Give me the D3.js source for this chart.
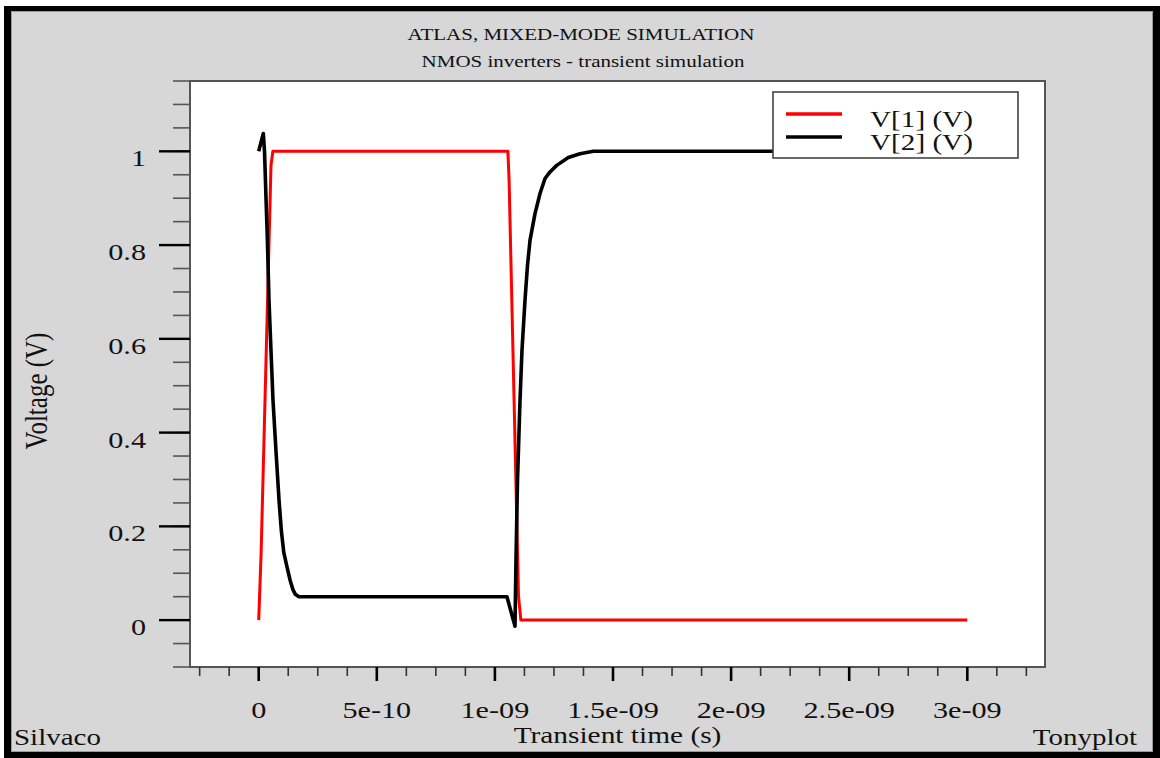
<!DOCTYPE html>
<html>
<head>
<meta charset="utf-8">
<title>ATLAS, MIXED-MODE SIMULATION</title>
<style>
body { margin: 0; background: #fff; }
text { font-family: "Liberation Serif", "Times New Roman", serif; fill: #111; }
</style>
</head>
<body>
<svg width="1160" height="758"></svg>
<script src="https://cdnjs.cloudflare.com/ajax/libs/d3/7.8.5/d3.min.js"></script>
<script>
// V[1] - input pulse (red)
var t1 = [0, 1e-11, 5.2e-11, 6e-11, 1.055e-9, 1.06e-9, 1.1e-9, 1.11e-9, 3e-9];
var v1 = [0, 0.14, 0.97, 1.0, 1.0, 0.94, 0.05, 0, 0];
// V[2] - inverter output (black)
var t2 = [0, 1.95e-11, 2.46e-11, 3.09e-11, 3.64e-11, 4.36e-11, 6.05e-11, 7.3e-11, 8.6e-11, 9.6e-11,
          1.06e-10, 1.2e-10, 1.33e-10, 1.45e-10, 1.55e-10, 1.7e-10,
          1.051e-9, 1.0851e-9, 1.0893e-9, 1.0957e-9, 1.1063e-9, 1.1147e-9, 1.1274e-9, 1.138e-9,
          1.1486e-9, 1.1698e-9, 1.191e-9, 1.2122e-9, 1.2334e-9, 1.2616e-9, 1.3108e-9, 1.3603e-9,
          1.4166e-9, 1.53e-9, 3e-9];
var v2 = [1.0, 1.038, 1.0, 0.9, 0.817, 0.68, 0.469, 0.362, 0.256, 0.19,
          0.145, 0.113, 0.085, 0.065, 0.055, 0.05,
          0.05, -0.013, 0.128, 0.298, 0.469, 0.576, 0.682, 0.757,
          0.81, 0.867, 0.91, 0.942, 0.956, 0.97, 0.987, 0.995,
          1.0, 1.0, 1.0];

var xMajor = [0, 5e-10, 1e-9, 1.5e-9, 2e-9, 2.5e-9, 3e-9];
var xLabels = ["0", "5e-10", "1e-09", "1.5e-09", "2e-09", "2.5e-09", "3e-09"];
var yMajor = [0, 0.2, 0.4, 0.6, 0.8, 1];
var yLabels = ["0", "0.2", "0.4", "0.6", "0.8", "1"];
var xMinor = d3.range(-2, 27).map(function(i) { return i * 1.25e-10; });
var yMinor = d3.range(-2, 24).map(function(i) { return i * 0.05; });

var series = [
  {name: "V[1] (V)", color: "#ff0000", width: 3, t: t1, v: v1},
  {name: "V[2] (V)", color: "#000000", width: 3.6, t: t2, v: v2}
];

var SX = 1.26; // the original picture is stretched horizontally
var svg = d3.select("svg");

// frame
svg.append("rect").attr("x", 4).attr("y", 6).attr("width", 1156).attr("height", 752).attr("fill", "#000");
svg.append("rect").attr("x", 11.5).attr("y", 11.5).attr("width", 1141).attr("height", 740)
    .attr("fill", "#d7d7d7").attr("stroke", "#9a9a9a").attr("stroke-width", 1);

var pL = 190, pR = 1045, pT = 81, pB = 667;
var x = d3.scaleLinear().domain([-2.909e-10, 3.329e-9]).range([pL, pR]);
var y = d3.scaleLinear().domain([-0.1, 1.15]).range([pB, pT]);

function stext(px, py, str, size, anchor, sx) {
  return svg.append("text")
    .attr("transform", "translate(" + px + "," + py + ") scale(" + (sx || SX) + ",1)")
    .attr("font-size", size)
    .attr("text-anchor", anchor || "middle")
    .text(str);
}

// plot area
svg.append("rect").attr("x", pL).attr("y", pT).attr("width", pR - pL).attr("height", pB - pT)
    .attr("fill", "#fff");

svg.append("clipPath").attr("id", "clip").append("rect")
    .attr("x", pL).attr("y", pT).attr("width", pR - pL).attr("height", pB - pT);

var line = d3.line()
    .x(function(d) { return x(d[0]); }).y(function(d) { return y(d[1]); });
var plot = svg.append("g").attr("clip-path", "url(#clip)");
series.forEach(function(s) {
  plot.append("path")
    .datum(s.t.map(function(t, i) { return [t, s.v[i]]; }))
    .attr("d", line)
    .attr("fill", "none")
    .attr("stroke", s.color)
    .attr("stroke-width", s.width)
    .attr("stroke-linejoin", "round");
});

svg.append("rect").attr("x", pL).attr("y", pT).attr("width", pR - pL).attr("height", pB - pT)
    .attr("fill", "none").attr("stroke", "#555").attr("stroke-width", 2);

// y ticks
svg.append("g").selectAll("line").data(yMinor).enter().append("line")
    .attr("x1", pL - 17).attr("x2", pL)
    .attr("y1", function(d) { return y(d); }).attr("y2", function(d) { return y(d); })
    .attr("stroke", "#555").attr("stroke-width", 1.6);
svg.append("g").selectAll("line").data(yMajor).enter().append("line")
    .attr("x1", pL - 31).attr("x2", pL)
    .attr("y1", function(d) { return y(d); }).attr("y2", function(d) { return y(d); })
    .attr("stroke", "#000").attr("stroke-width", 2.4);
yMajor.forEach(function(d, i) {
  stext(146, y(d) + 15, yLabels[i], 24, "end");
});

// x ticks
svg.append("g").selectAll("line").data(xMinor).enter().append("line")
    .attr("x1", function(d) { return x(d); }).attr("x2", function(d) { return x(d); })
    .attr("y1", pB).attr("y2", pB + 9)
    .attr("stroke", "#333").attr("stroke-width", 1.6);
svg.append("g").selectAll("line").data(xMajor).enter().append("line")
    .attr("x1", function(d) { return x(d); }).attr("x2", function(d) { return x(d); })
    .attr("y1", pB).attr("y2", pB + 14)
    .attr("stroke", "#000").attr("stroke-width", 2.6);
xMajor.forEach(function(d, i) {
  stext(x(d), 718, xLabels[i], 24, "middle");
});

// titles
stext(581, 39.5, "ATLAS, MIXED-MODE SIMULATION", 17.5, "middle", 1.2);
stext(583, 67, "NMOS inverters - transient simulation", 17.5, "middle", 1.2);
stext((pL + pR) / 2, 743, "Transient time (s)", 23.5, "middle", 1.25);
stext(14, 745, "Silvaco", 23, "start");
stext(1137, 745, "Tonyplot", 23, "end");
svg.append("text")
    .attr("transform", "translate(47,391) scale(" + SX + ",1) rotate(-90)")
    .attr("font-size", 25)
    .attr("text-anchor", "middle")
    .text("Voltage (V)");

// legend
var lg = svg.append("g");
lg.append("rect").attr("x", 773).attr("y", 92).attr("width", 245).attr("height", 66)
    .attr("fill", "#fff").attr("stroke", "#444").attr("stroke-width", 1.6);
series.forEach(function(s, i) {
  lg.append("line").attr("x1", 786).attr("x2", 842)
    .attr("y1", 114 + i * 23).attr("y2", 114 + i * 23)
    .attr("stroke", s.color).attr("stroke-width", 3.5);
  stext(870, 127 + i * 23, s.name, 23, "start", 1.27);
});
</script>
</body>
</html>
